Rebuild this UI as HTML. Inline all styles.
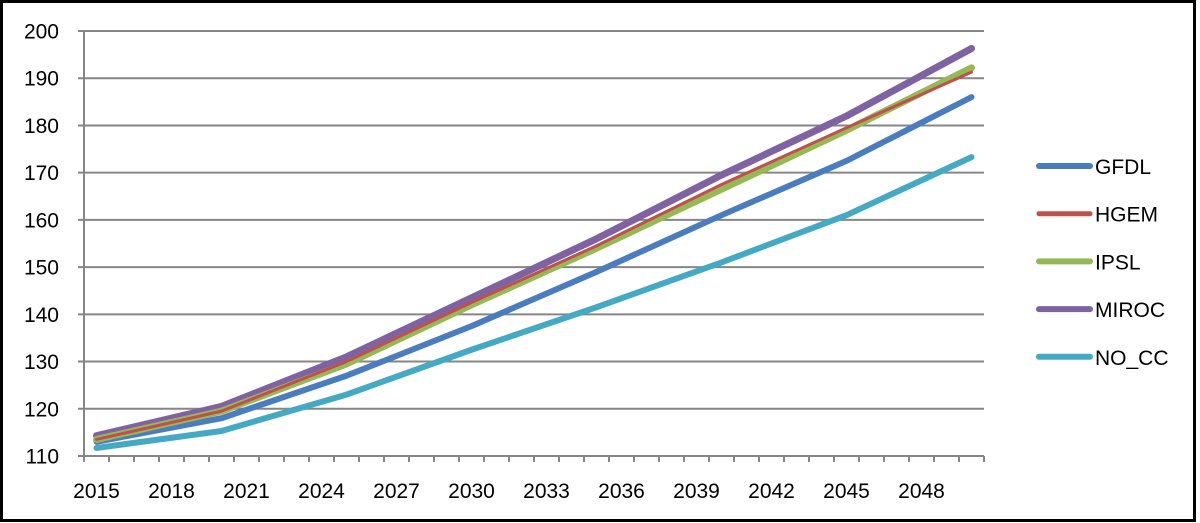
<!DOCTYPE html>
<html><head><meta charset="utf-8"><style>
body{margin:0;background:#fff}
svg{display:block}
text{font-family:"Liberation Sans",Calibri,sans-serif;font-size:21px;fill:#000}
</style></head><body>
<svg id="s" width="1200" height="523" xmlns="http://www.w3.org/2000/svg">
<rect x="1.5" y="1.5" width="1193" height="519" fill="#fff" stroke="#000" stroke-width="3"/>
<g id="g"></g>
</svg>
<script>
const g=document.getElementById('g');let h='';
const Y=v=>456-(v-110)*4.722;
for(let v=110;v<=200;v+=10){const y=Y(v);
 h+=`<line x1="78" x2="984" y1="${y}" y2="${y}" stroke="#868686" stroke-width="2"/>`;
 h+=`<text x="59" y="${y+7.5}" text-anchor="end">${v}</text>`;}
h+=`<line x1="84" x2="84" y1="31" y2="456" stroke="#868686" stroke-width="2"/>`;
for(let i=0;i<=36;i++){const x=84+i*25;h+=`<line x1="${x}" x2="${x}" y1="456" y2="462" stroke="#868686" stroke-width="2"/>`;}
for(let i=0;i<12;i++){h+=`<text x="${96.5+i*75}" y="498" text-anchor="middle">${2015+i*3}</text>`;}
const X=yr=>96.5+(yr-2015)*25;
const S=[
['GFDL','#4a7dbf',[113,118,127,137.5,149,161,172.5,186],6],
['NO_CC','#44aac4',[111.7,115.3,123,132.5,141.5,151,161,173.3],6],
['IPSL','#95b954',[113.5,119.5,129.5,142,154,166.5,179,192.2],7],
['HGEM','#c0504d',[113.5,119.5,130,142.5,154.5,167.5,179.5,191.3],3],
['MIROC','#7f62a1',[114.3,120.5,131,143.5,156,169.5,182,196.3],7]];
const order=['GFDL','HGEM','IPSL','MIROC','NO_CC'];
for(const n of ['NO_CC','GFDL','MIROC','IPSL','HGEM']){const s=S.find(a=>a[0]==n);
 const pts=s[2].map((v,i)=>X(2015+i*5)+','+Y(v)).join(' ');
 h+=`<polyline points="${pts}" fill="none" stroke="${s[1]}" stroke-width="${s[3]}" stroke-linecap="round" stroke-linejoin="round"/>`;}
order.forEach((n,i)=>{const s=S.find(a=>a[0]==n);const y=166+i*47.7;
 h+=`<line x1="1039" x2="1090" y1="${y}" y2="${y}" stroke="${s[1]}" stroke-width="${s[3]==3?5:6}" stroke-linecap="round"/>`;
 h+=`<text x="1095" y="${y+8}">${n}</text>`;});
g.innerHTML=h;
</script>
</body></html>
